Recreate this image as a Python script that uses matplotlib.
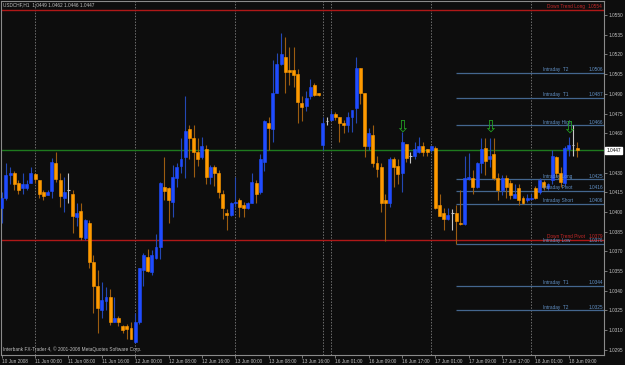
import numpy as np
import matplotlib
matplotlib.use("Agg")
import matplotlib.pyplot as plt
import matplotlib.transforms as mtransforms

plt.rcParams['font.family'] = ['Liberation Sans', 'DejaVu Sans']

# USDCHF H1 candles, 10 Jun 2008 16:00 .. 18 Jun 2008
opens = [1.0403, 1.0411, 1.0428, 1.0430, 1.0422, 1.0418, 1.0418, 1.0422, 1.0429, 1.0424,
         1.0415, 1.0413, 1.0416, 1.0437, 1.0424, 1.0411, 1.0417, 1.0414, 1.0396, 1.0401,
         1.0380, 1.0392, 1.0362, 1.0344, 1.0325, 1.0332, 1.0335, 1.0316, 1.0319, 1.0313,
         1.0313, 1.0312, 1.0301, 1.0316, 1.0356, 1.0366, 1.0354, 1.0365, 1.0373, 1.0419,
         1.0418, 1.0408, 1.0426, 1.0435, 1.0442, 1.0463, 1.0456, 1.0446, 1.0442, 1.0448,
         1.0427, 1.0434, 1.0430, 1.0414, 1.0399, 1.0398, 1.0407, 1.0409, 1.0405, 1.0403,
         1.0407, 1.0422, 1.0415, 1.0438, 1.0468, 1.0463, 1.0491, 1.0513, 1.0518, 1.0508,
         1.0508, 1.0505, 1.0483, 1.0481, 1.0488, 1.0497, 1.0491, 1.0451, 1.0469, 1.0470,
         1.0475, 1.0472, 1.0468, 1.0466, 1.0472, 1.0479, 1.0510, 1.0491, 1.0450, 1.0459,
         1.0437, 1.0434, 1.0409, 1.0407, 1.0440, 1.0435, 1.0430, 1.0452, 1.0443, 1.0443,
         1.0446, 1.0450, 1.0448, 1.0447, 1.0449, 1.0405, 1.0399, 1.0395, 1.0399, 1.0399,
         1.0392, 1.0391, 1.0425, 1.0426, 1.0419, 1.0437, 1.0449, 1.0440, 1.0444, 1.0426,
         1.0417, 1.0426, 1.0422, 1.0411, 1.0418, 1.0411, 1.0409, 1.0410, 1.0418, 1.0415,
         1.0423, 1.0418, 1.0424, 1.0442, 1.0430, 1.0422, 1.0448, 1.0451, 1.0449]
highs = [1.0415, 1.0437, 1.0434, 1.0431, 1.0424, 1.0430, 1.0424, 1.0434, 1.0430, 1.0424,
         1.0417, 1.0417, 1.0441, 1.0446, 1.0430, 1.0427, 1.0430, 1.0417, 1.0407, 1.0407,
         1.0395, 1.0394, 1.0367, 1.0356, 1.0347, 1.0343, 1.0341, 1.0335, 1.0321, 1.0314,
         1.0315, 1.0316, 1.0323, 1.0357, 1.0369, 1.0372, 1.0371, 1.0383, 1.0423, 1.0442,
         1.0419, 1.0436, 1.0437, 1.0456, 1.0488, 1.0466, 1.0466, 1.0456, 1.0457, 1.0451,
         1.0436, 1.0436, 1.0432, 1.0417, 1.0402, 1.0408, 1.0427, 1.0411, 1.0408, 1.0408,
         1.0430, 1.0424, 1.0444, 1.0470, 1.0472, 1.0516, 1.0521, 1.0536, 1.0533, 1.0526,
         1.0526, 1.0509, 1.0488, 1.0492, 1.0501, 1.0498, 1.0491, 1.0472, 1.0472, 1.0478,
         1.0476, 1.0472, 1.0470, 1.0476, 1.0478, 1.0518, 1.0510, 1.0491, 1.0464, 1.0466,
         1.0443, 1.0437, 1.0414, 1.0442, 1.0442, 1.0440, 1.0461, 1.0452, 1.0446, 1.0453,
         1.0457, 1.0453, 1.0448, 1.0450, 1.0450, 1.0414, 1.0403, 1.0403, 1.0402, 1.0405,
         1.0417, 1.0443, 1.0445, 1.0432, 1.0438, 1.0456, 1.0456, 1.0456, 1.0456, 1.0430,
         1.0428, 1.0428, 1.0424, 1.0421, 1.0421, 1.0412, 1.0414, 1.0414, 1.0420, 1.0426,
         1.0424, 1.0422, 1.0447, 1.0443, 1.0434, 1.0450, 1.0457, 1.0466, 1.0453]
lows = [1.0392, 1.0409, 1.0421, 1.0417, 1.0414, 1.0414, 1.0417, 1.0422, 1.0422, 1.0411,
        1.0409, 1.0413, 1.0411, 1.0423, 1.0404, 1.0400, 1.0407, 1.0384, 1.0389, 1.0379,
        1.0379, 1.0357, 1.0323, 1.0308, 1.0319, 1.0325, 1.0314, 1.0316, 1.0313, 1.0308,
        1.0303, 1.0303, 1.0300, 1.0315, 1.0344, 1.0354, 1.0352, 1.0364, 1.0364, 1.0409,
        1.0392, 1.0396, 1.0419, 1.0430, 1.0426, 1.0440, 1.0427, 1.0435, 1.0440, 1.0421,
        1.0421, 1.0420, 1.0411, 1.0395, 1.0386, 1.0397, 1.0404, 1.0396, 1.0396, 1.0402,
        1.0407, 1.0407, 1.0414, 1.0431, 1.0447, 1.0453, 1.0491, 1.0512, 1.0491, 1.0497,
        1.0495, 1.0468, 1.0469, 1.0477, 1.0486, 1.0488, 1.0488, 1.0447, 1.0466, 1.0469,
        1.0470, 1.0453, 1.0460, 1.0461, 1.0461, 1.0468, 1.0482, 1.0442, 1.0447, 1.0434,
        1.0427, 1.0400, 1.0378, 1.0404, 1.0419, 1.0421, 1.0415, 1.0438, 1.0437, 1.0440,
        1.0445, 1.0443, 1.0443, 1.0446, 1.0402, 1.0397, 1.0386, 1.0394, 1.0386, 1.0376,
        1.0390, 1.0390, 1.0424, 1.0414, 1.0418, 1.0430, 1.0428, 1.0434, 1.0424, 1.0409,
        1.0413, 1.0411, 1.0410, 1.0411, 1.0405, 1.0406, 1.0408, 1.0409, 1.0410, 1.0414,
        1.0417, 1.0417, 1.0421, 1.0427, 1.0419, 1.0420, 1.0443, 1.0443, 1.0442]
closes = [1.0411, 1.0428, 1.0430, 1.0421, 1.0417, 1.0421, 1.0421, 1.0430, 1.0425, 1.0414,
          1.0412, 1.0415, 1.0438, 1.0425, 1.0412, 1.0415, 1.0417, 1.0397, 1.0399, 1.0381,
          1.0394, 1.0362, 1.0344, 1.0327, 1.0333, 1.0335, 1.0316, 1.0319, 1.0316, 1.0310,
          1.0311, 1.0303, 1.0316, 1.0357, 1.0367, 1.0355, 1.0367, 1.0373, 1.0422, 1.0416,
          1.0409, 1.0427, 1.0434, 1.0440, 1.0462, 1.0456, 1.0446, 1.0440, 1.0450, 1.0427,
          1.0434, 1.0430, 1.0415, 1.0403, 1.0398, 1.0407, 1.0408, 1.0404, 1.0403, 1.0407,
          1.0423, 1.0414, 1.0440, 1.0469, 1.0464, 1.0491, 1.0513, 1.0520, 1.0507, 1.0507,
          1.0504, 1.0484, 1.0480, 1.0487, 1.0495, 1.0489, 1.0489, 1.0468, 1.0469, 1.0475,
          1.0472, 1.0468, 1.0466, 1.0472, 1.0478, 1.0510, 1.0491, 1.0450, 1.0460, 1.0437,
          1.0433, 1.0407, 1.0407, 1.0440, 1.0434, 1.0429, 1.0453, 1.0441, 1.0443, 1.0448,
          1.0450, 1.0446, 1.0446, 1.0450, 1.0403, 1.0397, 1.0395, 1.0398, 1.0399, 1.0393,
          1.0391, 1.0426, 1.0427, 1.0419, 1.0437, 1.0448, 1.0439, 1.0443, 1.0426, 1.0417,
          1.0426, 1.0419, 1.0413, 1.0414, 1.0409, 1.0407, 1.0411, 1.0411, 1.0411, 1.0424,
          1.0419, 1.0421, 1.0443, 1.0430, 1.0423, 1.0449, 1.0451, 1.0451, 1.0447]

time_label_idx = [0, 8, 16, 24, 32, 40, 48, 56, 64, 72, 80, 88, 96, 104, 112, 120, 128, 136]
time_labels = ['10 Jun 2008', '11 Jun 00:00', '11 Jun 08:00', '11 Jun 16:00', '12 Jun 00:00',
               '12 Jun 08:00', '12 Jun 16:00', '13 Jun 00:00', '13 Jun 08:00', '13 Jun 16:00',
               '16 Jun 01:00', '16 Jun 09:00', '16 Jun 17:00', '17 Jun 01:00', '17 Jun 09:00',
               '17 Jun 17:00', '18 Jun 01:00', '18 Jun 09:00']
separator_idx = [8, 32, 56, 77, 79, 103, 127]

# 1.0445 sits under the bid tag, so it is not labelled
price_ticks = [1.0550, 1.0535, 1.0520, 1.0505, 1.0490, 1.0475, 1.0460, 1.0430,
               1.0415, 1.0400, 1.0385, 1.0370, 1.0355, 1.0340, 1.0325, 1.0310, 1.0295]

intraday_names = ['Intraday  T2', 'Intraday  T1', 'Intraday High', 'Intraday Long',
                  'Intraday Pivot', 'Intraday Short', 'Intraday Low', 'Intraday  T1', 'Intraday  T2']
intraday_levels = [1.0506, 1.0487, 1.0466, 1.0425, 1.0416, 1.0406, 1.0376, 1.0344, 1.0325]
intraday_start = 108.9

trend_names = ['Down Trend Long', 'Down Trend Pivot']
trend_levels = [1.0554, 1.0379]
bid = 1.0447

arrow_idx = [96, 117, 136]
arrow_price = [1.0465, 1.0465, 1.0464]

# colours
bg = '#0d0d0d'
bull, bull_wick = '#1f4cff', '#2448b4'
bear, bear_wick = '#ff9a00', '#9c5c10'
doji = '#c8c8c8'
txt = '#c0c0c0'
frame = '#8a8a8a'

fig = plt.figure(figsize=(6.25, 3.65), dpi=100, facecolor=bg)
ax = fig.add_axes([1 / 625, 10 / 365, 603 / 625, 354 / 365], facecolor=bg)

o = np.array(opens); h = np.array(highs); l = np.array(lows); c = np.array(closes)
x = np.arange(len(o))
up = c > o
down = c < o
flat = c == o

# wicks
ax.vlines(x[up], l[up], h[up], color=bull_wick, lw=0.8, zorder=3)
ax.vlines(x[down], l[down], h[down], color=bear_wick, lw=0.8, zorder=3)
ax.vlines(x[flat], l[flat], h[flat], color=doji, lw=0.8, zorder=3)

# bodies
ax.bar(x[up], (c - o)[up], bottom=o[up], width=0.7, color=bull, edgecolor=bull, lw=0.4, zorder=4)
ax.bar(x[down], (o - c)[down], bottom=c[down], width=0.7, color=bear, edgecolor=bear, lw=0.4, zorder=4)
ax.hlines(o[flat], x[flat] - 0.35, x[flat] + 0.35, color=doji, lw=0.8, zorder=4)

# day separators
for s in separator_idx:
    ax.axvline(s, color='#6e6e6e', lw=0.7, ls=(0, (1.5, 1.5)), zorder=1)

# horizontal levels
ax.axhline(bid, color='#1e7a1e', lw=1.0, zorder=2)
trans = mtransforms.blended_transform_factory(ax.transAxes, ax.transData)
for name, lev in zip(trend_names, trend_levels):
    ax.axhline(lev, color='#b01818', lw=1.0, zorder=2)
    ax.text(0.906, lev + 0.00005, name, transform=trans, color='#c82828',
            fontsize=3.4, va='bottom', ha='left', zorder=6)
    ax.text(0.998, lev + 0.00005, f'{lev:.4f}', transform=trans, color='#c82828',
            fontsize=3.4, va='bottom', ha='right', zorder=6)

for name, lev in zip(intraday_names, intraday_levels):
    ax.hlines(lev, intraday_start, 145, color='#44668e', lw=0.9, zorder=2)
    ax.text(0.899, lev + 0.00005, name, transform=trans, color='#6292c8',
            fontsize=3.4, va='bottom', ha='left', zorder=6)
    ax.text(0.998, lev + 0.00005, f'{lev:.4f}', transform=trans, color='#6292c8',
            fontsize=3.4, va='bottom', ha='right', zorder=6)

# signal arrows
for xi, yi in zip(arrow_idx, arrow_price):
    ax.text(xi, yi, '\u21e9', color='#22a022', fontsize=12, ha='center', va='center',
            family=['DejaVu Sans'], zorder=7)

ax.set_xlim(-0.17, 144.43)
ax.set_ylim(1.02911, 1.05607)

for sp in ax.spines.values():
    sp.set_color(frame)
    sp.set_linewidth(0.8)

ax.yaxis.tick_right()
ax.set_yticks(price_ticks)
ax.set_yticklabels([f'{p:.4f}' for p in price_ticks])
ax.set_xticks(time_label_idx)
ax.set_xticklabels(time_labels)
ax.tick_params(axis='both', colors=frame, labelcolor=txt, labelsize=3.4, length=2, width=0.6, pad=1)
for lab in ax.get_xticklabels():
    lab.set_ha('left')

# bid price tag
ax.text(1.004, bid, f'{bid:.4f}', transform=trans, color='black', fontsize=3.4, va='center',
        ha='left', bbox=dict(boxstyle='square,pad=0.25', fc='white', ec='white'), zorder=8,
        clip_on=False)

ax.text(0.003, 0.988, 'USDCHF,H1  1.0449 1.0462 1.0446 1.0447', transform=ax.transAxes,
        color=txt, fontsize=3.4, va='center', ha='left')
ax.text(0.003, 0.008, 'Interbank FX-Trader 4, \u00a9 2001-2008 MetaQuotes Software Corp.',
        transform=ax.transAxes, color=txt, fontsize=3.4, va='bottom', ha='left')

fig.savefig('out.png', dpi=100, facecolor=bg)
